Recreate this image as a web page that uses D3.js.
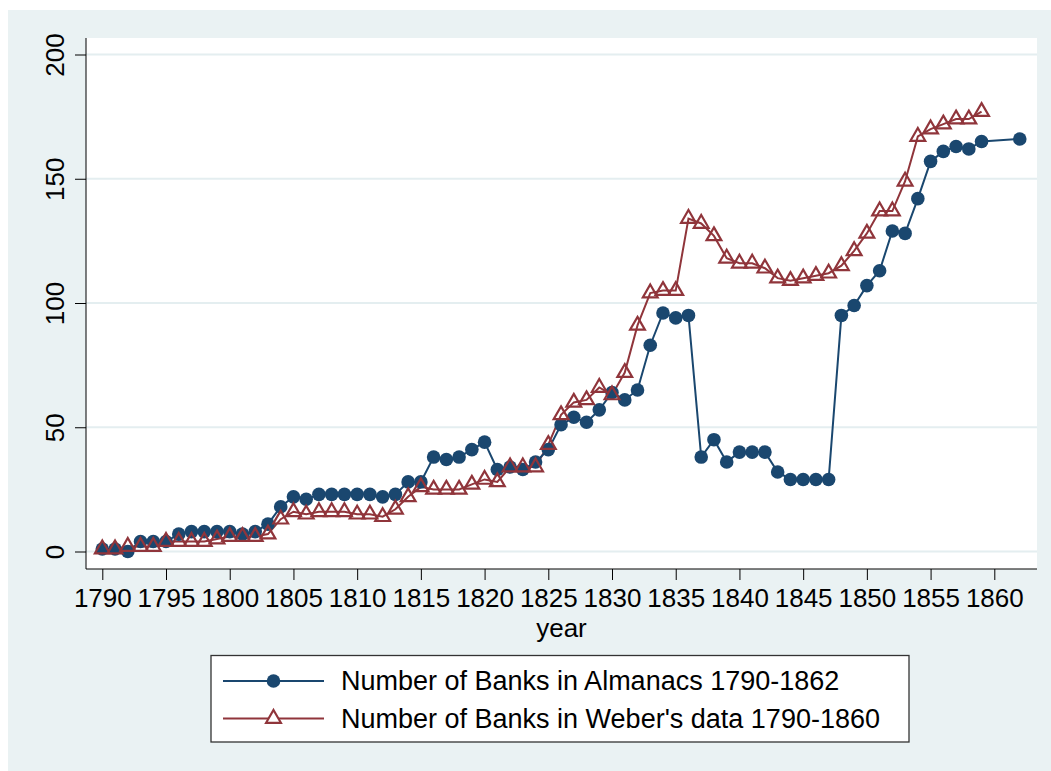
<!DOCTYPE html>
<html lang="en">
<head>
    <meta charset="UTF-8">
    <title>Number of Banks</title>
    <script src="https://d3js.org/d3.v7.min.js"></script>
    <style>
        body { margin: 0; background: #fff; }
        text { font-family: "Liberation Sans", Arial, sans-serif; fill: #000; }
    </style>
</head>
<body>
    <svg width="1051" height="771" id="chart"></svg>

    <script>
        // Almanacs series (no 1860, 1861)
        var almanacYears = [1790,1791,1792,1793,1794,1795,1796,1797,1798,1799,
            1800,1801,1802,1803,1804,1805,1806,1807,1808,1809,
            1810,1811,1812,1813,1814,1815,1816,1817,1818,1819,
            1820,1821,1822,1823,1824,1825,1826,1827,1828,1829,
            1830,1831,1832,1833,1834,1835,1836,1837,1838,1839,
            1840,1841,1842,1843,1844,1845,1846,1847,1848,1849,
            1850,1851,1852,1853,1854,1855,1856,1857,1858,1859,
            1862];
        var almanacBanks = [1,1,0,4,4,4,7,8,8,8,
            8,7,8,11,18,22,21,23,23,23,
            23,23,22,23,28,28,38,37,38,41,
            44,33,34,33,36,41,51,54,52,57,
            64,61,65,83,96,94,95,38,45,36,
            40,40,40,32,29,29,29,29,95,99,
            107,113,129,128,142,157,161,163,162,165,
            166];

        // Weber series
        var weberYears = d3.range(1790, 1860);
        var weberBanks = [1,1,2,2,2,4,4,4,4,5,
            6,6,6,7,13,16,15,16,16,16,
            15,15,14,17,22,26,25,25,25,27,
            29,28,34,34,34,43,55,60,61,66,
            63,72,91,104,105,105,134,132,127,118,
            116,116,114,110,109,110,111,112,115,121,
            128,137,137,149,167,170,172,174,174,177];

        var xTicks = d3.range(1790, 1861, 5);
        var yTicks = [0, 50, 100, 150, 200];
        var labels = ["Number of Banks in Almanacs 1790-1862", "Number of Banks in Weber's data 1790-1860"];

        var blue = "#1a476f", red = "#90353b", bg = "#eaf2f3";

        var svg = d3.select("#chart");

        // outer background
        svg.append("rect")
            .attr("x", 8).attr("y", 10)
            .attr("width", 1043).attr("height", 761)
            .attr("fill", bg);

        var plot = {left: 86, right: 1037, top: 38, bottom: 569};

        svg.append("rect")
            .attr("x", plot.left).attr("y", plot.top)
            .attr("width", plot.right - plot.left).attr("height", plot.bottom - plot.top)
            .attr("fill", "#fff");

        var x = d3.scaleLinear().domain([1790, 1860]).range([102.3, 994.3]);
        var y = d3.scaleLinear().domain([0, 200]).range([551.5, 54.5]);

        // gridlines
        svg.append("g")
            .selectAll("line")
            .data(yTicks)
            .join("line")
            .attr("x1", plot.left).attr("x2", plot.right)
            .attr("y1", d => y(d)).attr("y2", d => y(d))
            .attr("stroke", "#e4eef0")
            .attr("stroke-width", 2);

        // y axis
        var yAxis = svg.append("g")
            .attr("transform", "translate(" + plot.left + ",0)")
            .call(d3.axisLeft(y).tickValues(yTicks).tickSize(11).tickPadding(0).tickFormat(d3.format("d")));
        yAxis.select(".domain").remove();
        yAxis.selectAll(".tick line").attr("stroke", "#000").attr("stroke-width", 1);
        yAxis.selectAll(".tick text")
            .attr("font-size", 26)
            .attr("x", 0).attr("dy", 0)
            .attr("text-anchor", "middle")
            .attr("transform", "translate(-22,0) rotate(-90)")
            .style("font-family", "Liberation Sans, Arial, sans-serif")
            .attr("fill", "#000");
        svg.append("line")
            .attr("x1", plot.left).attr("x2", plot.left)
            .attr("y1", plot.top).attr("y2", plot.bottom)
            .attr("stroke", "#000").attr("stroke-width", 1);

        // x axis
        var xAxis = svg.append("g")
            .attr("transform", "translate(0," + plot.bottom + ")")
            .call(d3.axisBottom(x).tickValues(xTicks).tickSize(11).tickPadding(9).tickFormat(d3.format("d")));
        xAxis.select(".domain").remove();
        xAxis.selectAll(".tick line").attr("stroke", "#000").attr("stroke-width", 1);
        xAxis.selectAll(".tick text")
            .attr("font-size", 26)
            .style("font-family", "Liberation Sans, Arial, sans-serif")
            .attr("fill", "#000");
        svg.append("line")
            .attr("x1", plot.left).attr("x2", plot.right)
            .attr("y1", plot.bottom).attr("y2", plot.bottom)
            .attr("stroke", "#000").attr("stroke-width", 1);

        svg.append("text")
            .attr("x", (plot.left + plot.right) / 2)
            .attr("y", 637)
            .attr("text-anchor", "middle")
            .attr("font-size", 26)
            .text("year");

        // series
        var almanac = almanacYears.map((d, i) => [d, almanacBanks[i]]);
        var weber = weberYears.map((d, i) => [d, weberBanks[i]]);

        var line = d3.line().x(d => x(d[0])).y(d => y(d[1]));

        var tri = "M0,-8.5L7.4,4.3L-7.4,4.3Z";

        svg.append("path")
            .datum(weber)
            .attr("fill", "none")
            .attr("stroke", red)
            .attr("stroke-width", 2)
            .attr("d", line);

        svg.append("path")
            .datum(almanac)
            .attr("fill", "none")
            .attr("stroke", blue)
            .attr("stroke-width", 2)
            .attr("d", line);

        svg.append("g")
            .selectAll("circle")
            .data(almanac)
            .join("circle")
            .attr("cx", d => x(d[0]))
            .attr("cy", d => y(d[1]))
            .attr("r", 6.8)
            .attr("fill", blue);

        svg.append("g")
            .selectAll("path")
            .data(weber)
            .join("path")
            .attr("transform", d => "translate(" + x(d[0]) + "," + y(d[1]) + ")")
            .attr("d", tri)
            .attr("fill", "none")
            .attr("stroke", red)
            .attr("stroke-width", 2.2);

        // legend
        svg.append("rect")
            .attr("x", 211).attr("y", 655.5)
            .attr("width", 698).attr("height", 86.5)
            .attr("fill", "#fff")
            .attr("stroke", "#333")
            .attr("stroke-width", 1.3);

        var legend = svg.append("g")
            .selectAll("g")
            .data(labels)
            .join("g")
            .attr("transform", (d, i) => "translate(0," + (681 + i * 37.5) + ")");

        legend.append("line")
            .attr("x1", 223).attr("x2", 324)
            .attr("stroke", (d, i) => i == 0 ? blue : red)
            .attr("stroke-width", 2);

        legend.each(function(d, i) {
            var g = d3.select(this);
            if (i == 0) {
                g.append("circle").attr("cx", 273.5).attr("r", 6.8).attr("fill", blue);
            } else {
                g.append("path")
                    .attr("transform", "translate(273.5,0)")
                    .attr("d", tri)
                    .attr("fill", "#fff")
                    .attr("stroke", red)
                    .attr("stroke-width", 2.2);
            }
        });

        legend.append("text")
            .attr("x", 341)
            .attr("dy", "0.35em")
            .attr("font-size", 27)
            .text(d => d);
    </script>
</body>
</html>
